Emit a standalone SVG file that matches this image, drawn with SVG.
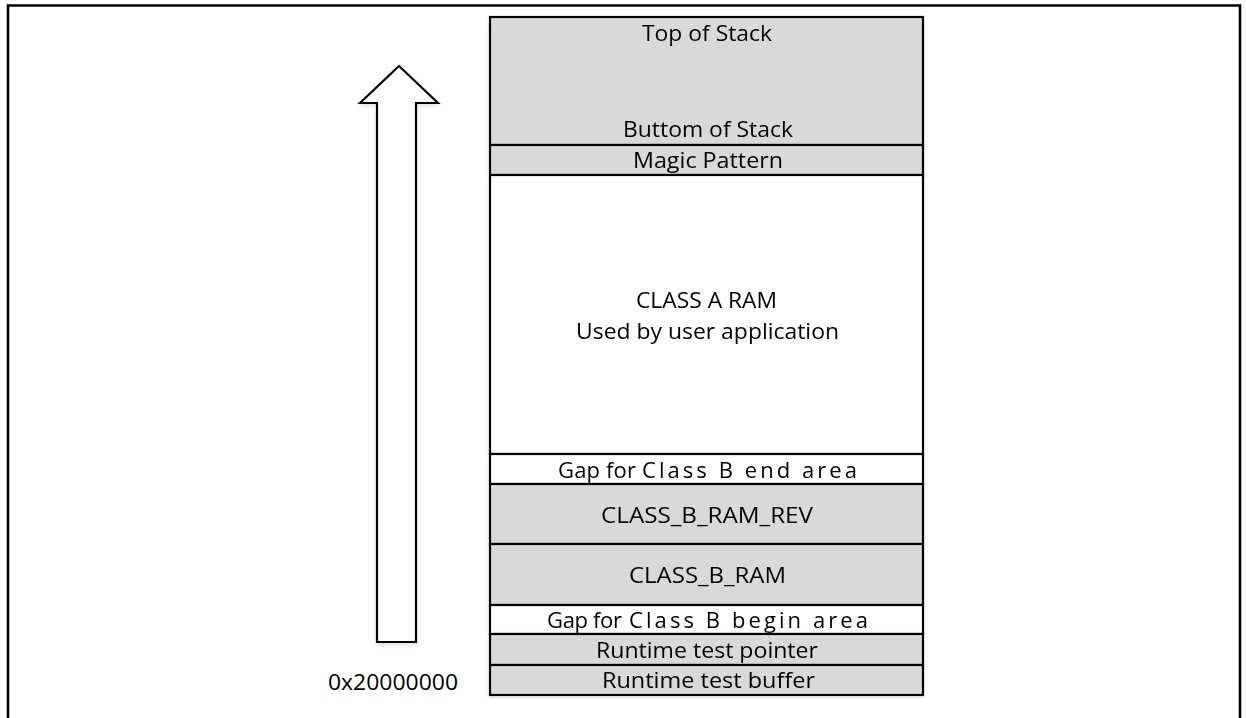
<svg xmlns="http://www.w3.org/2000/svg" width="1246" height="718" viewBox="0 0 1246 718">
  <defs>
    <filter id="soft" x="-10%" y="-10%" width="120%" height="120%">
      <feDropShadow dx="0" dy="2" stdDeviation="2" flood-color="#8fa9c4" flood-opacity="0.35"/>
    </filter>
    <style>
      .frame { fill: none; stroke: #000; stroke-width: 2.6; }
      .cell { stroke: #000; stroke-width: 2.2; }
      .grey { fill: #d9d9d9; }
      .white { fill: #ffffff; }
      .lbl { font-family: "Open Sans", Lato, "Liberation Sans", sans-serif; font-size: 22px; fill: #000; }
      .arrow { fill: #ffffff; stroke: #000; stroke-width: 2.2; stroke-linejoin: miter; }
    </style>
  </defs>

  <rect x="0" y="0" width="1246" height="718" fill="#ffffff"/>

  <!-- outer border, open at the bottom -->
  <path class="frame" d="M8,718 V5.5 H1240 V718"/>

  <!-- address growth arrow -->
  <g id="growth-arrow" filter="url(#soft)">
    <polygon class="arrow" points="399,66 438,103 416,103 416,642 377,642 377,103 360,103"/>
  </g>

  <!-- memory map, top to bottom -->
  <g id="stack" filter="url(#soft)">
    <rect class="cell grey" x="490" y="17" width="433" height="128"/>
    <text class="lbl" x="642" y="41" textLength="130" lengthAdjust="spacingAndGlyphs">Top of Stack</text>
    <text class="lbl" x="623" y="137" textLength="170" lengthAdjust="spacingAndGlyphs">Buttom of Stack</text>
  </g>
  <g id="magic-pattern" filter="url(#soft)">
    <rect class="cell grey" x="490" y="145" width="433" height="30"/>
    <text class="lbl" x="633" y="168" textLength="150" lengthAdjust="spacingAndGlyphs">Magic Pattern</text>
  </g>
  <g id="class-a-ram" filter="url(#soft)">
    <rect class="cell white" x="490" y="175" width="433" height="279"/>
    <text class="lbl" x="636" y="308" textLength="141" lengthAdjust="spacingAndGlyphs">CLASS A RAM</text>
    <text class="lbl" x="576" y="339" textLength="263" lengthAdjust="spacingAndGlyphs">Used by user application</text>
  </g>
  <g id="gap-end" filter="url(#soft)">
    <rect class="cell white" x="490" y="454" width="433" height="30"/>
    <text class="lbl" y="478"><tspan x="558" textLength="78">Gap for</tspan><tspan x="642" textLength="215">Class  B  end  area</tspan></text>
  </g>
  <g id="class-b-ram-rev" filter="url(#soft)">
    <rect class="cell grey" x="490" y="484" width="433" height="60"/>
    <text class="lbl" x="601" y="523" textLength="212" lengthAdjust="spacingAndGlyphs">CLASS_B_RAM_REV</text>
  </g>
  <g id="class-b-ram" filter="url(#soft)">
    <rect class="cell grey" x="490" y="544" width="433" height="61"/>
    <text class="lbl" x="629" y="583" textLength="157" lengthAdjust="spacingAndGlyphs">CLASS_B_RAM</text>
  </g>
  <g id="gap-begin" filter="url(#soft)">
    <rect class="cell white" x="490" y="605" width="433" height="29"/>
    <text class="lbl" y="628"><tspan x="547" textLength="75">Gap for</tspan><tspan x="629" textLength="239">Class  B  begin  area</tspan></text>
  </g>
  <g id="runtime-pointer" filter="url(#soft)">
    <rect class="cell grey" x="490" y="634" width="433" height="31"/>
    <text class="lbl" x="596" y="658" textLength="222" lengthAdjust="spacingAndGlyphs">Runtime test pointer</text>
  </g>
  <g id="runtime-buffer" filter="url(#soft)">
    <rect class="cell grey" x="490" y="665" width="433" height="30"/>
    <text class="lbl" x="602" y="688" textLength="213" lengthAdjust="spacingAndGlyphs">Runtime test buffer</text>
  </g>

  <!-- base address -->
  <g id="base-address">
    <text class="lbl" x="328" y="690" textLength="130" lengthAdjust="spacingAndGlyphs">0x20000000</text>
  </g>
</svg>
